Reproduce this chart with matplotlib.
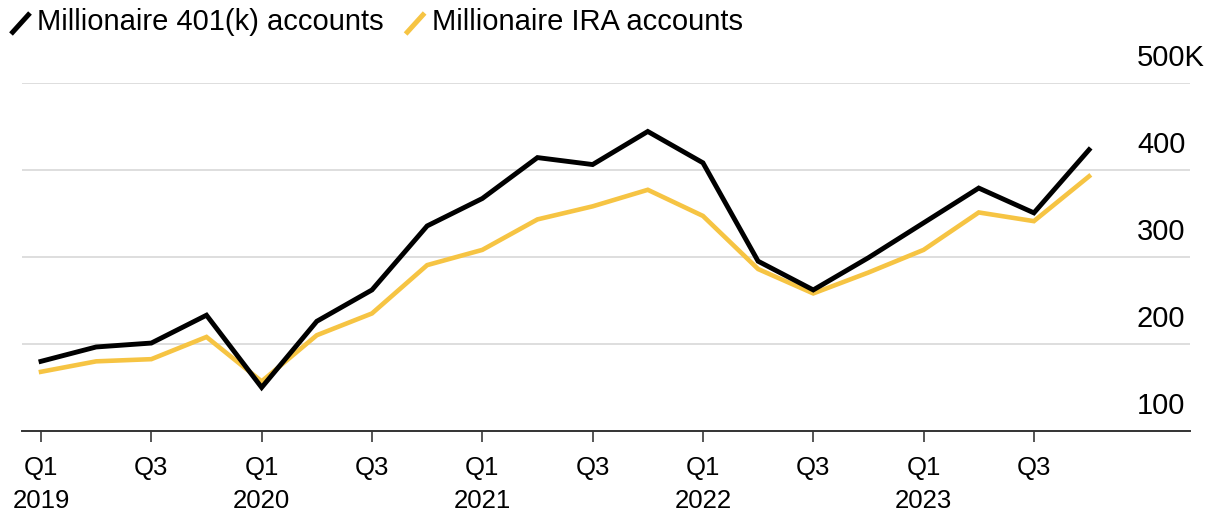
import matplotlib
matplotlib.use("Agg")
import matplotlib.pyplot as plt
from matplotlib.lines import Line2D
from matplotlib import transforms

plt.rcParams['font.family'] = ['Liberation Sans', 'DejaVu Sans']

# ---- data ----
quarters = ["Q1 2019", "Q2 2019", "Q3 2019", "Q4 2019",
            "Q1 2020", "Q2 2020", "Q3 2020", "Q4 2020",
            "Q1 2021", "Q2 2021", "Q3 2021", "Q4 2021",
            "Q1 2022", "Q2 2022", "Q3 2022", "Q4 2022",
            "Q1 2023", "Q2 2023", "Q3 2023", "Q4 2023"]
k401 = [180, 196.5, 201, 233, 150, 226, 262, 335.5, 367, 414,
        406, 444, 408, 295, 262, 299, 339, 379, 350.5, 423]
ira = [168, 180, 182.5, 208, 157, 210, 235, 290.5, 308, 343,
       358, 377, 347, 286, 258, 282, 308, 351, 341, 392.5]
series_names = ["Millionaire 401(k) accounts", "Millionaire IRA accounts"]
series_colors = ["#000000", "#F6C443"]
y_ticks = [100, 200, 300, 400, 500]
y_tick_labels = ["100", "200", "300", "400", "500K"]
x_tick_idx = [0, 2, 4, 6, 8, 10, 12, 14, 16, 18]
x_tick_labels = ["Q1\n2019", "Q3", "Q1\n2020", "Q3", "Q1\n2021", "Q3",
                 "Q1\n2022", "Q3", "Q1\n2023", "Q3"]

W, H = 1211, 515
fig = plt.figure(figsize=(W / 100, H / 100), dpi=100)
ax = fig.add_axes([21.7 / W, 1 - 431 / H, (1190 - 21.7) / W, (431 - 82.7) / H])

x = list(range(len(quarters)))
ax.plot(x, ira, color=series_colors[1], lw=3.3, solid_joinstyle='miter', zorder=3)
ax.plot(x, k401, color=series_colors[0], lw=3.5, solid_joinstyle='miter', zorder=4)

ax.set_xlim(-0.35, 20.83)
ax.set_ylim(100, 500)

# gridlines
for v in y_ticks[1:]:
    ax.axhline(v, color="#dedede", lw=1.4, zorder=1)
for s in ["top", "right", "left"]:
    ax.spines[s].set_visible(False)
ax.spines["bottom"].set_color("#333333")
ax.spines["bottom"].set_linewidth(1.4)

ax.set_yticks([])
ax.set_xticks(x_tick_idx)
ax.set_xticklabels(x_tick_labels, fontsize=18.5, linespacing=1.5, color="#000000")
ax.tick_params(axis='x', length=8, width=1.4, color="#555555", pad=10)

# y labels above gridlines, left aligned near right edge
label_x = (1137 - 21.7) / (1190 - 21.7)
trans = transforms.offset_copy(ax.get_yaxis_transform(), fig=fig, x=0, y=25, units='dots')
for v, t in zip(y_ticks, y_tick_labels):
    ax.text(label_x, v, t, transform=trans, ha='left', va='center',
            fontsize=21, color="#000000", clip_on=False)

# legend (manual)
fig.canvas.draw()
renderer = fig.canvas.get_renderer()
cur_x = 11
for name, col in zip(series_names, series_colors):
    ln = Line2D([cur_x, cur_x + 19], [H - 34, H - 13], transform=None,
                color=col, lw=3.6, solid_capstyle='butt')
    fig.add_artist(ln)
    txt = fig.text((cur_x + 26) / W, 1 - 22 / H, name, ha='left', va='center',
                   fontsize=21, color="#000000")
    bb = txt.get_window_extent(renderer)
    cur_x = bb.x1 + 22

fig.savefig("out.png", dpi=100)
